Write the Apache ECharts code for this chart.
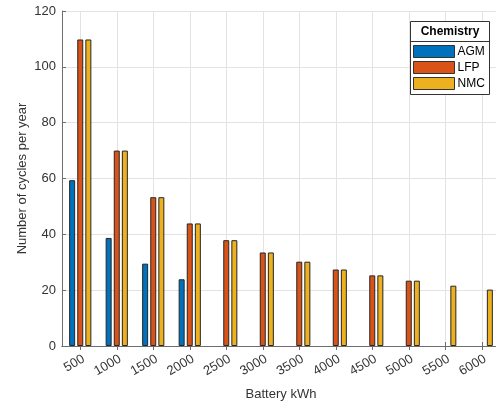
<!DOCTYPE html>
<html>
<head>
<meta charset="utf-8">
<title>Cycles per year by battery size</title>
<script src="https://cdn.jsdelivr.net/npm/echarts@6/dist/echarts.min.js"></script>
<style>
  html, body { margin: 0; padding: 0; background: #fff; }
  #chart { width: 496px; height: 404px; }
</style>
</head>
<body>
<div id="chart"></div>
<script>
// Battery capacity buckets (kWh)
var categories = ['500', '1000', '1500', '2000', '2500', '3000', '3500', '4000', '4500', '5000', '5500', '6000'];

// Number of cycles per year for each chemistry (null = not available)
var agm = [59.4, 38.7, 29.5, 23.9, null, null, null, null, null, null, null, null];
var lfp = [109.8, 70.0, 53.3, 43.9, 37.9, 33.5, 30.2, 27.4, 25.3, 23.4, null, null];
var nmc = [109.8, 70.0, 53.3, 43.9, 37.9, 33.5, 30.2, 27.4, 25.3, 23.4, 21.6, 20.2];

var seriesNames = ['AGM', 'LFP', 'NMC'];
var seriesColors = ['#0072BD', '#D95319', '#EDB120'];

// Value axis range
var yMin = 0, yMax = 120, yStep = 20;

var FONT = '"Liberation Sans", Arial, Helvetica, sans-serif';
var AXIS_COLOR = '#6e6e6e';
var TEXT_COLOR = '#333333';
var GRID_COLOR = '#e3e3e3';

// Half-step positions across the plot: band edges at even indices,
// category centres at odd indices. Used by the top axis so its ticks and
// the vertical grid lines sit on the category centres.
var halfSteps = [];
for (var i = 0; i <= categories.length * 2; i++) {
  halfSteps.push(i % 2 === 1 ? categories[(i - 1) / 2] : 'edge' + i);
}
function isCentre(index) { return index % 2 === 1; }

var chart = echarts.init(document.getElementById('chart'), null, { renderer: 'canvas' });

function barSeries(name, values, color) {
  return {
    name: name,
    type: 'bar',
    xAxisIndex: 0,
    yAxisIndex: 0,
    data: values,
    barWidth: 6,
    barGap: '35%',
    itemStyle: { color: color, borderColor: '#262626', borderWidth: 1 },
    emphasis: { disabled: true },
    animation: false
  };
}

chart.setOption({
  animation: false,
  textStyle: { fontFamily: FONT },
  grid: { left: 62, right: -4, top: 11, bottom: 58, containLabel: false, outerBoundsMode: 'none' },
  legend: {
    orient: 'vertical',
    left: 413,
    top: 45,
    padding: 0,
    itemWidth: 41,
    itemHeight: 12,
    itemGap: 3,
    icon: 'rect',
    selectedMode: false,
    z: 10,
    itemStyle: { borderWidth: 1, borderColor: '#333' },
    textStyle: { fontFamily: FONT, fontSize: 12, color: '#000', padding: [0, 0, 0, -2] },
    data: seriesNames
  },
  graphic: [
    {
      type: 'rect', z: 8,
      shape: { x: 410.5, y: 21.5, width: 79, height: 73 },
      style: { fill: '#fff', stroke: '#333', lineWidth: 1 }
    },
    {
      type: 'line', z: 9,
      shape: { x1: 410.5, y1: 41.5, x2: 489.5, y2: 41.5 },
      style: { stroke: '#333', lineWidth: 1 }
    },
    {
      type: 'text', z: 9,
      x: 450, y: 31.5,
      style: {
        text: 'Chemistry', fill: '#000', font: 'bold 12px ' + FONT,
        align: 'center', verticalAlign: 'middle'
      }
    }
  ],
  xAxis: [
    {
      type: 'category',
      position: 'bottom',
      data: categories,
      boundaryGap: true,
      name: 'Battery kWh',
      nameLocation: 'middle',
      nameGap: 42,
      nameMoveOverlap: false,
      nameTextStyle: { fontFamily: FONT, fontSize: 13, color: TEXT_COLOR },
      axisLine: { show: true, lineStyle: { color: AXIS_COLOR, width: 1 } },
      axisTick: { show: true, inside: true, length: 4, alignWithLabel: true, lineStyle: { color: AXIS_COLOR } },
      axisLabel: { rotate: 30, fontFamily: FONT, fontSize: 13, color: TEXT_COLOR, margin: 14, interval: 0, padding: [0, -4, 0, 0] },
      splitLine: { show: false }
    },
    {
      type: 'category',
      position: 'top',
      data: halfSteps,
      boundaryGap: false,
      axisLine: { show: true, lineStyle: { color: AXIS_COLOR, width: 1 } },
      axisTick: { show: true, inside: true, length: 4, interval: isCentre, lineStyle: { color: AXIS_COLOR } },
      axisLabel: { show: false },
      splitLine: { show: true, interval: isCentre, lineStyle: { color: GRID_COLOR, width: 1 } }
    }
  ],
  yAxis: [
    {
      type: 'value',
      min: yMin, max: yMax, interval: yStep,
      name: 'Number of cycles per year',
      nameLocation: 'middle',
      nameGap: 33,
      nameMoveOverlap: false,
      nameTextStyle: { fontFamily: FONT, fontSize: 13, color: TEXT_COLOR },
      axisLine: { show: true, lineStyle: { color: AXIS_COLOR, width: 1 } },
      axisTick: { show: true, inside: true, length: 4, lineStyle: { color: AXIS_COLOR } },
      axisLabel: { fontFamily: FONT, fontSize: 13, color: TEXT_COLOR, margin: 6 },
      splitLine: { show: true, lineStyle: { color: GRID_COLOR, width: 1 } }
    },
    {
      type: 'value',
      position: 'right',
      min: yMin, max: yMax, interval: yStep,
      axisLine: { show: true, lineStyle: { color: AXIS_COLOR, width: 1 } },
      axisTick: { show: true, inside: true, length: 4, lineStyle: { color: AXIS_COLOR } },
      axisLabel: { show: false },
      splitLine: { show: false }
    }
  ],
  series: [
    barSeries(seriesNames[0], agm, seriesColors[0]),
    barSeries(seriesNames[1], lfp, seriesColors[1]),
    barSeries(seriesNames[2], nmc, seriesColors[2])
  ]
});
</script>
</body>
</html>
